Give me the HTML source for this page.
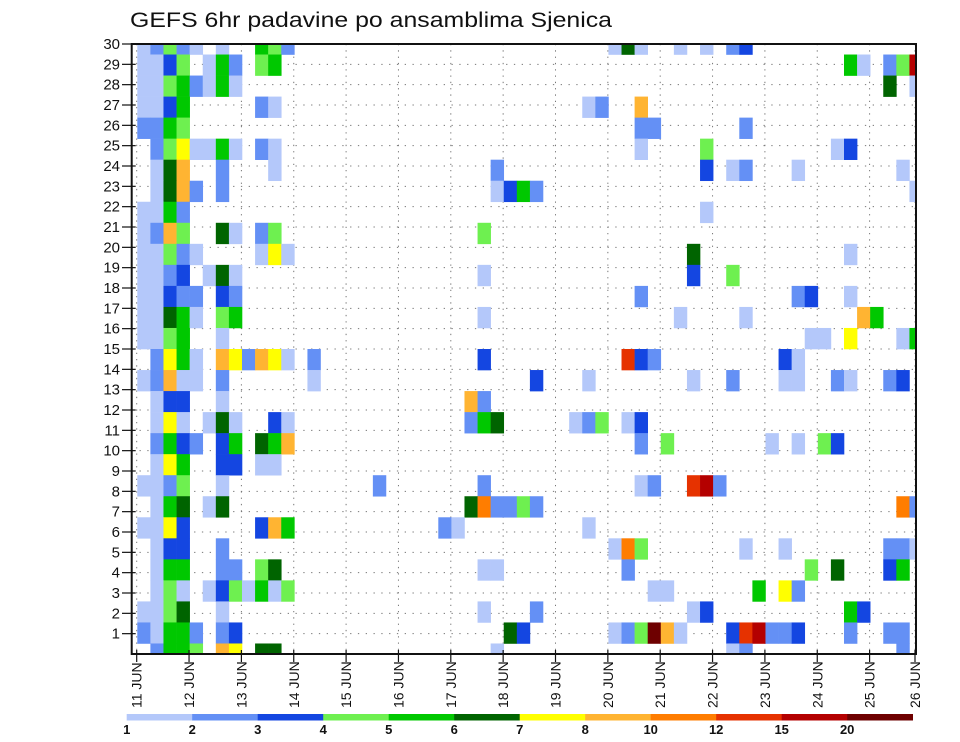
<!DOCTYPE html>
<html><head><meta charset="utf-8"><title>GEFS 6hr padavine po ansamblima Sjenica</title>
<style>
html,body{margin:0;padding:0;background:#fff;}
svg{display:block;font-family:"Liberation Sans",sans-serif;}
</style></head>
<body>
<svg id="chart" width="960" height="742" viewBox="0 0 960 742" xmlns="http://www.w3.org/2000/svg">
  <rect width="960" height="742" fill="#fff"/>
  <text x="130" y="27" font-size="21" textLength="482" lengthAdjust="spacingAndGlyphs" fill="#111">GEFS 6hr padavine po ansamblima Sjenica</text>
  <defs><clipPath id="plotclip"><rect x="131.7" y="44" width="784.3" height="610"/></clipPath></defs>
  <g id="grid"></g>
  <g id="cells" clip-path="url(#plotclip)"></g>
  <g id="axes"></g>
  <g id="legend"></g>
</svg>
<script>
// ---- data ----
const dayLabels = ["11 JUN","12 JUN","13 JUN","14 JUN","15 JUN","16 JUN","17 JUN","18 JUN","19 JUN","20 JUN","21 JUN","22 JUN","23 JUN","24 JUN","25 JUN","26 JUN"];
const memberLabels = [1,2,3,4,5,6,7,8,9,10,11,12,13,14,15,16,17,18,19,20,21,22,23,24,25,26,27,28,29,30];
const levelLabels = ["1","2","3","4","5","6","7","8","10","12","15","20"];
const levelColors = ["#b4c8fa","#6490f5","#1446e1","#6ef050","#00c800","#006400","#ffff00","#ffb432","#ff7d00","#e63200","#b40000","#6e0000"];
// each band (top to bottom): "column:class" entries; class 1..9, a=10, b=11, c=12
const bandCells = [
"0:1,1:2,2:4,3:2,4:1,6:1,9:5,10:4,11:2,36:1,37:6,38:1,41:1,43:1,45:2,46:3",
"0:1,1:1,2:3,3:4,5:1,6:5,7:2,9:4,10:5,54:5,55:1,57:2,58:4,59:b",
"0:1,1:1,2:4,3:5,4:2,5:1,6:5,7:1,57:6,59:1",
"0:1,1:1,2:3,3:5,9:2,10:1,34:1,35:2,38:8",
"0:2,1:2,2:5,3:4,38:2,39:2,46:2",
"1:2,2:4,3:7,4:1,5:1,6:5,7:1,9:2,10:1,38:1,43:4,53:1,54:3",
"1:1,2:6,3:8,6:2,10:1,27:2,43:3,45:1,46:2,50:1,58:1",
"1:1,2:6,3:8,4:2,6:2,27:1,28:3,29:5,30:2,59:1",
"0:1,1:1,2:5,3:2,43:1",
"0:1,1:2,2:8,3:4,6:6,7:1,9:2,10:4,26:4",
"0:1,1:1,2:4,3:2,4:1,9:1,10:7,11:1,42:6,54:1",
"0:1,1:1,2:2,3:3,5:1,6:6,7:1,26:1,42:3,45:4",
"0:1,1:1,2:3,3:2,4:2,6:3,7:2,38:2,50:2,51:3,54:1",
"0:1,1:1,2:6,3:5,4:1,6:4,7:5,26:1,41:1,46:1,55:8,56:5",
"0:1,1:1,2:4,3:5,6:1,51:1,52:1,54:7,58:1,59:5",
"1:2,2:7,3:5,4:1,6:8,7:7,8:2,9:8,10:7,11:1,13:2,26:3,37:a,38:3,39:2,49:3,50:1",
"0:1,1:2,2:8,3:1,4:1,6:2,13:1,30:3,34:1,42:1,45:2,49:1,50:1,53:2,54:1,57:2,58:3",
"1:1,2:3,3:3,6:1,25:8,26:2",
"1:1,2:7,3:1,5:1,6:6,7:1,10:3,11:1,25:2,26:5,27:6,33:1,34:2,35:4,37:1,38:3",
"1:2,2:5,3:3,4:2,6:3,7:5,9:6,10:5,11:8,38:2,40:4,48:1,50:1,52:4,53:3",
"1:1,2:7,3:5,6:3,7:3,9:1,10:1",
"0:1,1:1,2:2,3:4,6:1,18:2,26:2,38:1,39:2,42:a,43:b,44:2",
"1:1,2:5,3:6,5:1,6:6,25:6,26:9,27:2,28:2,29:4,30:2,58:9,59:2",
"0:1,1:1,2:7,3:3,9:3,10:8,11:5,23:2,24:1,34:1",
"1:1,2:3,3:3,6:2,36:1,37:9,38:4,46:1,49:1,57:2,58:2,59:1",
"1:1,2:5,3:5,6:2,7:2,9:4,10:6,26:1,27:1,37:2,51:4,53:6,57:3,58:5",
"1:1,2:4,3:1,5:1,6:3,7:4,8:1,9:5,10:1,11:4,39:1,40:1,47:5,49:7,50:2",
"0:1,1:1,2:4,3:6,6:1,26:1,30:2,42:1,43:3,54:5,55:3",
"0:2,1:1,2:5,3:5,4:2,6:2,7:3,28:6,29:3,36:1,37:2,38:4,39:c,40:8,41:1,45:3,46:a,47:b,48:2,49:2,50:3,54:2,57:2,58:2",
"1:2,2:5,3:5,4:4,6:8,7:7,9:6,10:6,27:1,45:1,46:2,58:2"
];

// ---- layout ----
const NS = "http://www.w3.org/2000/svg";
const PX0 = 131.7, PX1 = 916, PY0 = 44, PY1 = 654;
const colX0 = 137.3, colW = 13.087;
const bandH = (PY1 - PY0) / (bandCells.length - 1);
function xCol(c){ return colX0 + colW * c; }
function yBand(j){ return PY0 + bandH * j - bandH / 2; }
function yMember(r){ return PY1 - (PY1 - PY0) / 30 * r; }
function xDay(d){ return d < 15 ? 136.7 + 52.35 * d : 915; }
function lvl(ch){ return "123456789abc".indexOf(ch); }
function mk(tag, attrs, parent){
  const e = document.createElementNS(NS, tag);
  for (const k in attrs) e.setAttribute(k, attrs[k]);
  parent.appendChild(e); return e;
}

// grid
const gGrid = document.getElementById("grid");
memberLabels.forEach(r => {
  const y = yMember(r);
  const l = mk("line", {x1:PX0, x2:PX1, y1:y, y2:y, stroke:"#777", "stroke-width":1, "stroke-dasharray":"1.3,6.5"}, gGrid);
  
  
});
dayLabels.forEach((d, i) => {
  const x = xDay(i);
  const l = mk("line", {x1:x, x2:x, y1:PY0, y2:PY1, stroke:"#777", "stroke-width":1, "stroke-dasharray":"1.3,5"}, gGrid);
  
  
});

// cells
const gCells = document.getElementById("cells");
bandCells.forEach((s, j) => {
  s.split(",").forEach(p => {
    const [c, v] = p.split(":");
    const k = lvl(v);
    const r = mk("rect", {x:xCol(+c), y:yBand(j), width:colW + 0.3, height:bandH + 0.3, fill:levelColors[k]}, gCells);
    
    
  });
});

// axes
const gAx = document.getElementById("axes");
const frame = mk("rect", {x:PX0, y:PY0, width:PX1 - PX0, height:PY1 - PY0, fill:"none", stroke:"#111", "stroke-width":2}, gAx);


memberLabels.forEach(r => {
  const y = yMember(r);
  mk("line", {x1:122, x2:PX0 + 4, y1:y, y2:y, stroke:"#111", "stroke-width":1.2}, gAx);
  const t = mk("text", {x:120, y:y + 5, "font-size":15, "text-anchor":"end", fill:"#111"}, gAx);
  t.textContent = r;
  
  
});
dayLabels.forEach((d, i) => {
  const x = xDay(i);
  mk("line", {x1:x, x2:x, y1:PY1 - 4, y2:PY1 + 8, stroke:"#111", "stroke-width":1.2}, gAx);
  const t = mk("text", {transform:"translate(" + (x + 5) + ",708) rotate(-90)", "font-size":14, fill:"#111"}, gAx);
  t.textContent = d;
  
  
});

// colorbar
const gLeg = document.getElementById("legend");
const segW = 65.5, legX = 126.7;
levelColors.forEach((c, i) => {
  const r = mk("rect", {x:legX + segW * i, y:714, width:segW + 0.3, height:6.5, fill:c}, gLeg);
  
  
});
levelLabels.forEach((l, i) => {
  const t = mk("text", {x:legX + segW * i, y:734, "font-size":13, "font-weight":"bold", "text-anchor":"middle", fill:"#111"}, gLeg);
  t.textContent = l;
  
  
});
</script>
</body></html>
